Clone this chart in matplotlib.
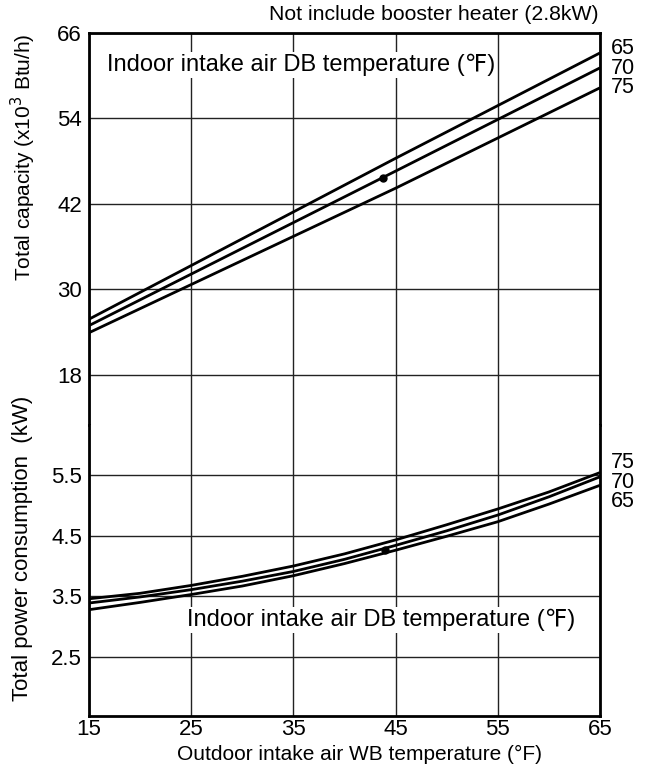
import matplotlib.pyplot as plt

plt.rcParams['font.family'] = ['Liberation Sans', 'DejaVu Sans']

# outdoor WB temperature (F)
wb_cap = [15, 45, 65]
cap_65 = [25.8, 48.4, 63.2]
cap_70 = [24.9, 46.6, 61.1]
cap_75 = [23.9, 44.2, 58.3]

wb_pow = [15, 20, 25, 30, 35, 40, 45, 50, 55, 60, 65]
pow_75 = [3.46, 3.55, 3.68, 3.83, 4.00, 4.20, 4.43, 4.68, 4.94, 5.22, 5.54]
pow_70 = [3.39, 3.49, 3.61, 3.75, 3.91, 4.11, 4.34, 4.58, 4.84, 5.14, 5.47]
pow_65 = [3.28, 3.40, 3.53, 3.67, 3.84, 4.04, 4.26, 4.49, 4.73, 5.02, 5.33]

cap_point = (43.8, 45.7)
pow_point = (44.0, 4.26)

x_ticks = [15, 25, 35, 45, 55, 65]
cap_ticks = [18, 30, 42, 54, 66]
pow_ticks = [2.5, 3.5, 4.5, 5.5]

fig = plt.figure(figsize=(6.49, 7.67), dpi=100)
ax1 = fig.add_axes([0.1371, 0.4459, 0.7874, 0.5111])
ax2 = fig.add_axes([0.1371, 0.0665, 0.7874, 0.3794])

for ax in (ax1, ax2):
    ax.set_xlim(15, 65)
    ax.set_xticks(x_ticks)
    ax.tick_params(length=0, labelsize=16, pad=5)
    ax.grid(True, color='#222222', linewidth=1.0)
    ax.set_axisbelow(True)
    for s in ax.spines.values():
        s.set_linewidth(2.0)

ax1.spines['bottom'].set_visible(False)
ax2.spines['top'].set_visible(False)
ax1.tick_params(labelbottom=False)
ax2.tick_params(axis='x', pad=2)

ax1.set_ylim(10.94, 66)
ax1.set_yticks(cap_ticks)
ax2.set_ylim(1.528, 6.324)
ax2.set_yticks(pow_ticks)
ax2.set_yticklabels(['2.5', '3.5', '4.5', '5.5'])

for ys in (cap_65, cap_70, cap_75):
    ax1.plot(wb_cap, ys, color='black', linewidth=2.0, solid_capstyle='butt')
for ys in (pow_75, pow_70, pow_65):
    ax2.plot(wb_pow, ys, color='black', linewidth=2.0, solid_capstyle='butt')

ax1.plot(*cap_point, 'o', color='black', markersize=5)
ax2.plot(*pow_point, 'o', color='black', markersize=5)

bbox = dict(facecolor='white', edgecolor='none', pad=1.5)
ax1.text(16.76, 61.5, 'Indoor intake air DB temperature (\u2109)', fontsize=17,
         va='center', ha='left', bbox=bbox)
ax2.text(24.6, 3.11, 'Indoor intake air DB temperature (\u2109)', fontsize=17,
         va='center', ha='left', bbox=bbox)

# curve labels at the right edge
fig.text(611 / 649, 1 - 68 / 767, '65\n70\n75', fontsize=15.5, va='center', ha='left',
         linespacing=0.92)
fig.text(611 / 649, 1 - 482 / 767, '75\n70\n65', fontsize=15.5, va='center', ha='left',
         linespacing=0.92)

fig.text(599 / 649, 1 - 15 / 767, 'Not include booster heater (2.8kW)', fontsize=15.3,
         ha='right', va='center')
fig.text(360 / 649, 1 - 754 / 767, 'Outdoor intake air WB temperature (\u00b0F)', fontsize=15,
         ha='center', va='center')
fig.text(23 / 649, 1 - 157 / 767, 'Total capacity (x10$^{3}$ Btu/h)', fontsize=15,
         rotation=90, ha='center', va='center')
fig.text(23 / 649, 1 - 548 / 767, 'Total power consumption  (kW)', fontsize=16,
         rotation=90, ha='center', va='center')

fig.savefig('out.png', dpi=100)
